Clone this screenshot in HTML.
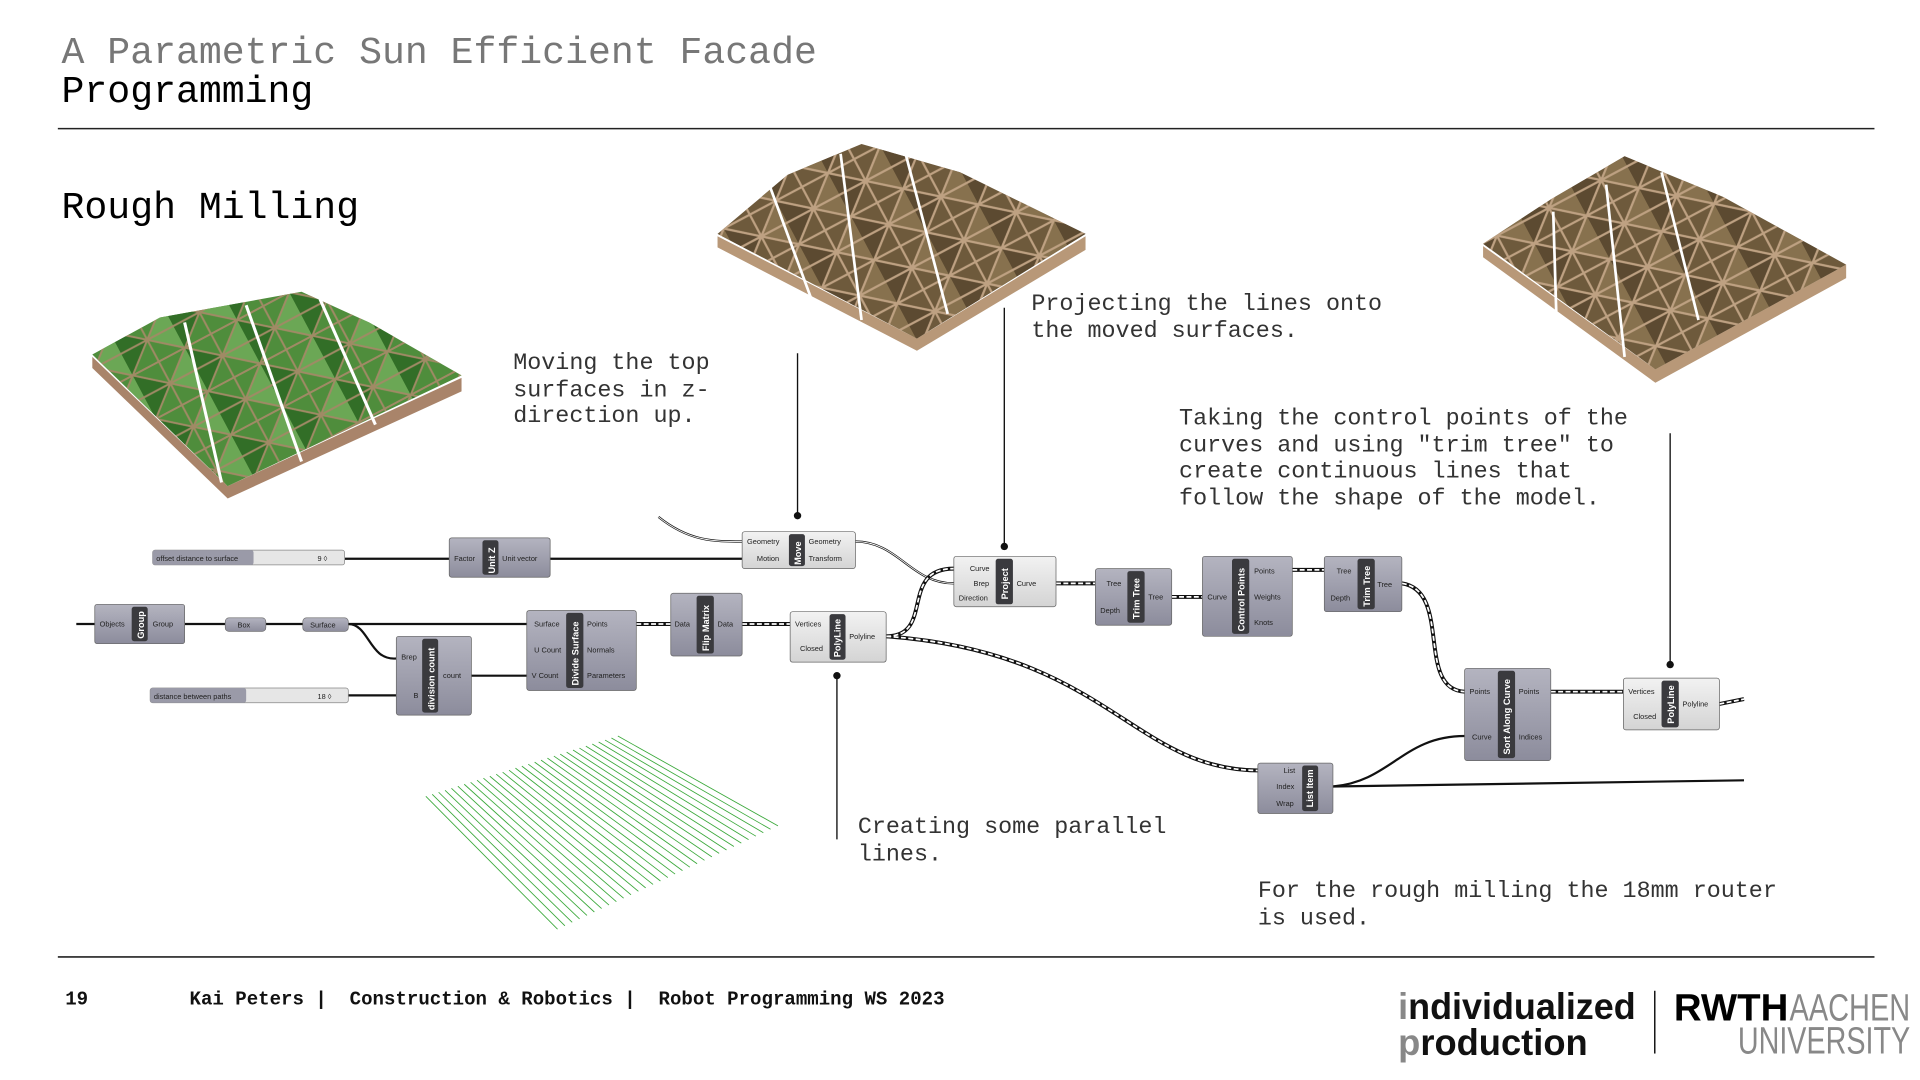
<!DOCTYPE html>
<html><head><meta charset="utf-8"><style>
html,body{margin:0;padding:0;background:#fff;width:1920px;height:1080px;overflow:hidden}
svg{display:block}
.m{font-family:"Liberation Mono",monospace}
.s{font-family:"Liberation Sans",sans-serif}
.pl{font-family:"Liberation Sans",sans-serif;font-size:6px;fill:#222}
.nt{font-family:"Liberation Sans",sans-serif;font-size:7.5px;font-weight:bold;fill:#fff}
</style></head><body>
<svg width="1920" height="1080" viewBox="0 0 1560 877.5" xmlns="http://www.w3.org/2000/svg">
<defs>
<linearGradient id="gn" x1="0" y1="0" x2="0" y2="1"><stop offset="0" stop-color="#b4b4c0"/><stop offset="1" stop-color="#8c8c9c"/></linearGradient>
<linearGradient id="gl" x1="0" y1="0" x2="0" y2="1"><stop offset="0" stop-color="#f2f2f2"/><stop offset="1" stop-color="#d4d4d4"/></linearGradient>
<pattern id="tri" width="48" height="40" patternUnits="userSpaceOnUse" patternTransform="rotate(-28)">
<path d="M0 0L24 20L0 40Z" fill="#5a4830"/><path d="M24 20L48 0L48 40Z" fill="#8a7450"/>
<path d="M0 0H48M0 20H48M0 40H48M0 0L24 20L0 40M48 0L24 20L48 40M24 0V40" stroke="#c7a98a" stroke-width="1.8" fill="none"/>
</pattern>
<pattern id="tri2" width="48" height="40" patternUnits="userSpaceOnUse" patternTransform="rotate(-28)">
<path d="M0 0L24 20L0 40Z" fill="#2f6a25"/><path d="M24 20L48 0L48 40Z" fill="#6eaa58"/>
<path d="M0 0H48M0 20H48M0 40H48M0 0L24 20L0 40M48 0L24 20L48 40M24 0V40" stroke="#a98a6a" stroke-width="1.6" fill="none"/>
</pattern>
</defs>

<!-- header -->
<text x="50" y="51" class="m" font-size="31" fill="#777">A Parametric Sun Efficient Facade</text>
<text x="50" y="83" class="m" font-size="31" fill="#000">Programming</text>
<line x1="47" y1="104.5" x2="1523" y2="104.5" stroke="#222" stroke-width="1.3"/>
<text x="50" y="177" class="m" font-size="31" fill="#000">Rough Milling</text>

<!-- model 1 green -->
<polygon points="75,290 185,395 375,307 375,318 185,405 75,299" fill="#a9846a"/>
<polygon points="75,288 130,258 245,237 300,262 375,305 185,395" fill="#4f8d3c"/>
<polygon points="75,288 130,258 245,237 300,262 375,305 185,395" fill="url(#tri2)" opacity="0.9"/>
<g stroke="#fff" stroke-width="2.5"><line x1="150" y1="262" x2="180" y2="392"/><line x1="200" y1="248" x2="245" y2="375"/><line x1="260" y1="243" x2="305" y2="345"/></g>

<!-- model 2 brown -->
<polygon points="583,192 745,275 882,192 882,203 745,285 583,201" fill="#b89878"/>
<polygon points="583,190 640,142 700,117 780,140 882,190 745,275" fill="#6e5a3c"/>
<polygon points="583,190 640,142 700,117 780,140 882,190 745,275" fill="url(#tri)" opacity="0.9"/>
<g stroke="#fff" stroke-width="2.2"><line x1="625" y1="150" x2="660" y2="245"/><line x1="683" y1="125" x2="700" y2="260"/><line x1="735" y1="122" x2="770" y2="255"/></g>

<!-- model 3 brown -->
<polygon points="1205,200 1345,300 1500,215 1500,226 1345,311 1205,209" fill="#b89878"/>
<polygon points="1205,198 1260,162 1320,127 1400,160 1500,215 1345,300" fill="#6e5a3c"/>
<polygon points="1205,198 1260,162 1320,127 1400,160 1500,215 1345,300" fill="url(#tri)" opacity="0.9"/>
<g stroke="#fff" stroke-width="2.2"><line x1="1262" y1="172" x2="1265" y2="272"/><line x1="1305" y1="150" x2="1320" y2="290"/><line x1="1350" y1="140" x2="1380" y2="260"/></g>

<!-- parallel lines -->
<g stroke="#3aa83a" stroke-width="0.7">
<line x1="346" y1="647" x2="453" y2="755"/><line x1="351.2" y1="645.4" x2="459" y2="752.2"/><line x1="356.4" y1="643.7" x2="464.9" y2="749.4"/><line x1="361.6" y1="642.1" x2="470.9" y2="746.6"/><line x1="366.8" y1="640.5" x2="476.9" y2="743.8"/><line x1="372" y1="638.8" x2="482.9" y2="741"/><line x1="377.2" y1="637.2" x2="488.8" y2="738.2"/><line x1="382.4" y1="635.6" x2="494.8" y2="735.4"/><line x1="387.6" y1="633.9" x2="500.8" y2="732.6"/><line x1="392.8" y1="632.3" x2="506.7" y2="729.8"/><line x1="398" y1="630.7" x2="512.7" y2="727"/><line x1="403.2" y1="629" x2="518.7" y2="724.2"/><line x1="408.4" y1="627.4" x2="524.6" y2="721.4"/><line x1="413.6" y1="625.8" x2="530.6" y2="718.6"/><line x1="418.8" y1="624.1" x2="536.6" y2="715.8"/><line x1="424" y1="622.5" x2="542.6" y2="713"/><line x1="429.2" y1="620.9" x2="548.5" y2="710.2"/><line x1="434.4" y1="619.2" x2="554.5" y2="707.4"/><line x1="439.6" y1="617.6" x2="560.5" y2="704.6"/><line x1="444.8" y1="616" x2="566.4" y2="701.8"/><line x1="450" y1="614.3" x2="572.4" y2="699"/><line x1="455.2" y1="612.7" x2="578.4" y2="696.2"/><line x1="460.4" y1="611.1" x2="584.3" y2="693.4"/><line x1="465.6" y1="609.4" x2="590.3" y2="690.6"/><line x1="470.8" y1="607.8" x2="596.3" y2="687.8"/><line x1="476" y1="606.2" x2="602.3" y2="685"/><line x1="481.2" y1="604.5" x2="608.2" y2="682.2"/><line x1="486.4" y1="602.9" x2="614.2" y2="679.4"/><line x1="491.6" y1="601.3" x2="620.2" y2="676.6"/><line x1="496.8" y1="599.6" x2="626.1" y2="673.8"/><line x1="502" y1="598" x2="632.1" y2="671"/>
</g>

<!-- annotations -->
<g class="m" font-size="19" fill="#333">
<text x="417" y="300">Moving the top</text><text x="417" y="322">surfaces in z-</text><text x="417" y="343">direction up.</text>
<text x="838" y="252">Projecting the lines onto</text><text x="838" y="274">the moved surfaces.</text>
<text x="958" y="345">Taking the control points of the</text><text x="958" y="367">curves and using "trim tree" to</text><text x="958" y="388">create continuous lines that</text><text x="958" y="410">follow the shape of the model.</text>
<text x="697" y="677">Creating some parallel</text><text x="697" y="699">lines.</text>
<text x="1022" y="729">For the rough milling the 18mm router</text><text x="1022" y="751">is used.</text>
</g>
<g stroke="#111" stroke-width="1.1">
<line x1="648" y1="287" x2="648" y2="418"/><line x1="816" y1="250" x2="816" y2="443"/><line x1="1357" y1="352" x2="1357" y2="540"/><line x1="680" y1="550" x2="680" y2="682"/>
</g>
<g fill="#111"><circle cx="648" cy="419" r="3"/><circle cx="816" cy="444" r="3"/><circle cx="1357" cy="540" r="3"/><circle cx="680" cy="549" r="3"/></g>

<!-- wires solid -->
<g fill="none" stroke="#111" stroke-width="1.8">
<path d="M280 454H365"/><path d="M447 454H603"/>
<path d="M62 507H77"/><path d="M150 507H183"/><path d="M216 507H246"/><path d="M283 507H428"/>
<path d="M283 507C300 507 300 537 322 535"/>
<path d="M283 565H322"/><path d="M383 549H428"/>
<path d="M535 420C560 440 580 440 603 440"/>
<path d="M695 440C730 440 740 474 775 474"/>
<path d="M1083 639C1130 635 1140 598 1190 598"/>
<path d="M1083 639L1417 634"/>
</g>
<g fill="none" stroke="#fff" stroke-width="0.7"><path d="M535 420C560 440 580 440 603 440"/><path d="M695 440C730 440 740 474 775 474"/></g>
<!-- dashed wires -->
<g fill="none" stroke="#111" stroke-width="3.2">
<path d="M517 507H545"/><path d="M603 507H642"/>
<path d="M720 517C760 517 730 462 775 462"/>
<path d="M720 517C900 530 920 625 1022 626"/>
<path d="M858 474H890"/><path d="M952 485H977"/><path d="M1050 463H1076"/>
<path d="M1139 474C1180 480 1150 560 1190 562"/>
<path d="M1260 562H1319"/><path d="M1397 572L1417 568"/>
</g>
<g fill="none" stroke="#fff" stroke-width="1.4" stroke-dasharray="4 2">
<path d="M517 507H545"/><path d="M603 507H642"/>
<path d="M720 517C760 517 730 462 775 462"/>
<path d="M720 517C900 530 920 625 1022 626"/>
<path d="M858 474H890"/><path d="M952 485H977"/><path d="M1050 463H1076"/>
<path d="M1139 474C1180 480 1150 560 1190 562"/>
<path d="M1260 562H1319"/><path d="M1397 572L1417 568"/>
</g>

<!-- sliders -->
<g>
<rect x="124" y="447" width="156" height="12" rx="2" fill="#e6e6e6" stroke="#888" stroke-width="0.6"/>
<rect x="124" y="447" width="82" height="12" rx="2" fill="#9a9aa8"/>
<text x="127" y="456" class="pl">offset distance to surface</text><text x="258" y="456" class="pl">9 ◊</text>
<rect x="122" y="559" width="161" height="12" rx="2" fill="#e6e6e6" stroke="#888" stroke-width="0.6"/>
<rect x="122" y="559" width="78" height="12" rx="2" fill="#9a9aa8"/>
<text x="125" y="568" class="pl">distance between paths</text><text x="258" y="568" class="pl">18 ◊</text>
<rect x="183" y="502" width="33" height="11" rx="3" fill="url(#gn)" stroke="#666" stroke-width="0.5"/><text x="193" y="510" class="pl">Box</text>
<rect x="246" y="502" width="37" height="11" rx="3" fill="url(#gn)" stroke="#666" stroke-width="0.5"/><text x="252" y="510" class="pl">Surface</text>
</g>

<!-- nodes -->
<g stroke="#666" stroke-width="0.6">
<rect x="365" y="437" width="82" height="32" rx="2" fill="url(#gn)"/>
<rect x="603" y="432" width="92" height="30" rx="2" fill="url(#gl)"/>
<rect x="77" y="491" width="73" height="32" rx="2" fill="url(#gn)"/>
<rect x="322" y="517" width="61" height="64" rx="2" fill="url(#gn)"/>
<rect x="428" y="496" width="89" height="65" rx="2" fill="url(#gn)"/>
<rect x="545" y="482" width="58" height="51" rx="2" fill="url(#gn)"/>
<rect x="642" y="497" width="78" height="41" rx="2" fill="url(#gl)"/>
<rect x="775" y="452" width="83" height="41" rx="2" fill="url(#gl)"/>
<rect x="890" y="462" width="62" height="46" rx="2" fill="url(#gn)"/>
<rect x="977" y="452" width="73" height="65" rx="2" fill="url(#gn)"/>
<rect x="1076" y="452" width="63" height="45" rx="2" fill="url(#gn)"/>
<rect x="1190" y="543" width="70" height="75" rx="2" fill="url(#gn)"/>
<rect x="1319" y="551" width="78" height="42" rx="2" fill="url(#gl)"/>
<rect x="1022" y="620" width="61" height="41" rx="2" fill="url(#gn)"/>
</g>
<g fill="#3a3a3e">
<rect x="392" y="439" width="13" height="28" rx="2"/>
<rect x="641" y="434" width="13" height="26" rx="2"/>
<rect x="107" y="493" width="13" height="28" rx="2"/>
<rect x="343" y="519" width="13" height="60" rx="2"/>
<rect x="460" y="498" width="14" height="61" rx="2"/>
<rect x="566" y="484" width="14" height="47" rx="2"/>
<rect x="674" y="499" width="13" height="37" rx="2"/>
<rect x="809" y="454" width="14" height="37" rx="2"/>
<rect x="916" y="464" width="14" height="42" rx="2"/>
<rect x="1001" y="454" width="14" height="61" rx="2"/>
<rect x="1103" y="454" width="14" height="41" rx="2"/>
<rect x="1217" y="545" width="14" height="71" rx="2"/>
<rect x="1350" y="553" width="14" height="38" rx="2"/>
<rect x="1058" y="622" width="13" height="37" rx="2"/>
</g>
<g class="nt">
<text transform="translate(402,466) rotate(-90)">Unit Z</text>
<text transform="translate(651,459) rotate(-90)">Move</text>
<text transform="translate(117,519) rotate(-90)">Group</text>
<text transform="translate(353,577) rotate(-90)">division count</text>
<text transform="translate(470,557) rotate(-90)">Divide Surface</text>
<text transform="translate(576,529) rotate(-90)">Flip Matrix</text>
<text transform="translate(683,534) rotate(-90)">PolyLine</text>
<text transform="translate(819,487) rotate(-90)">Project</text>
<text transform="translate(926,503) rotate(-90)">Trim Tree</text>
<text transform="translate(1011,513) rotate(-90)">Control Points</text>
<text transform="translate(1113,493) rotate(-90)">Trim Tree</text>
<text transform="translate(1227,613) rotate(-90)">Sort Along Curve</text>
<text transform="translate(1360,588) rotate(-90)">PolyLine</text>
<text transform="translate(1067,656) rotate(-90)">List Item</text>
</g>
<g class="pl">
<text x="369" y="456">Factor</text><text x="408" y="456">Unit vector</text>
<text x="607" y="442">Geometry</text><text x="615" y="456">Motion</text><text x="657" y="442">Geometry</text><text x="657" y="456">Transform</text>
<text x="81" y="509">Objects</text><text x="124" y="509">Group</text>
<text x="326" y="536">Brep</text><text x="336" y="567">B</text><text x="360" y="551">count</text>
<text x="434" y="509">Surface</text><text x="434" y="530">U Count</text><text x="432" y="551">V Count</text>
<text x="477" y="509">Points</text><text x="477" y="530">Normals</text><text x="477" y="551">Parameters</text>
<text x="548" y="509">Data</text><text x="583" y="509">Data</text>
<text x="646" y="509">Vertices</text><text x="650" y="529">Closed</text><text x="690" y="519">Polyline</text>
<text x="788" y="464">Curve</text><text x="791" y="476">Brep</text><text x="779" y="488">Direction</text><text x="826" y="476">Curve</text>
<text x="899" y="476">Tree</text><text x="894" y="498">Depth</text><text x="933" y="487">Tree</text>
<text x="981" y="487">Curve</text><text x="1019" y="466">Points</text><text x="1019" y="487">Weights</text><text x="1019" y="508">Knots</text>
<text x="1086" y="466">Tree</text><text x="1081" y="488">Depth</text><text x="1119" y="477">Tree</text>
<text x="1194" y="564">Points</text><text x="1196" y="601">Curve</text><text x="1234" y="564">Points</text><text x="1234" y="601">Indices</text>
<text x="1323" y="564">Vertices</text><text x="1327" y="584">Closed</text><text x="1367" y="574">Polyline</text>
<text x="1043" y="628">List</text><text x="1037" y="641">Index</text><text x="1037" y="655">Wrap</text>
</g>

<!-- footer -->
<line x1="47" y1="777.5" x2="1523" y2="777.5" stroke="#222" stroke-width="1.3"/>
<g class="m" font-size="15.5" font-weight="bold" fill="#111">
<text x="53" y="816">19</text>
<text x="154" y="816" xml:space="preserve">Kai Peters |  Construction &amp; Robotics |  Robot Programming WS 2023</text>
</g>
<g class="s" font-weight="bold">
<text x="1136" y="828" font-size="30" textLength="193" lengthAdjust="spacingAndGlyphs" fill="#111"><tspan fill="#888">i</tspan>ndividualized</text>
<text x="1136" y="857" font-size="30" textLength="154" lengthAdjust="spacingAndGlyphs" fill="#111"><tspan fill="#888">p</tspan>roduction</text>
<line x1="1344.5" y1="805" x2="1344.5" y2="856" stroke="#111" stroke-width="1.2"/>
<text x="1360" y="829" font-size="31" textLength="93" lengthAdjust="spacingAndGlyphs" fill="#000">RWTH</text>
<text x="1454" y="829" font-size="31" font-weight="normal" textLength="98" lengthAdjust="spacingAndGlyphs" fill="#888">AACHEN</text>
<text x="1412" y="856" font-size="31" font-weight="normal" textLength="140" lengthAdjust="spacingAndGlyphs" fill="#888">UNIVERSITY</text>
</g>
</svg>
</body></html>
